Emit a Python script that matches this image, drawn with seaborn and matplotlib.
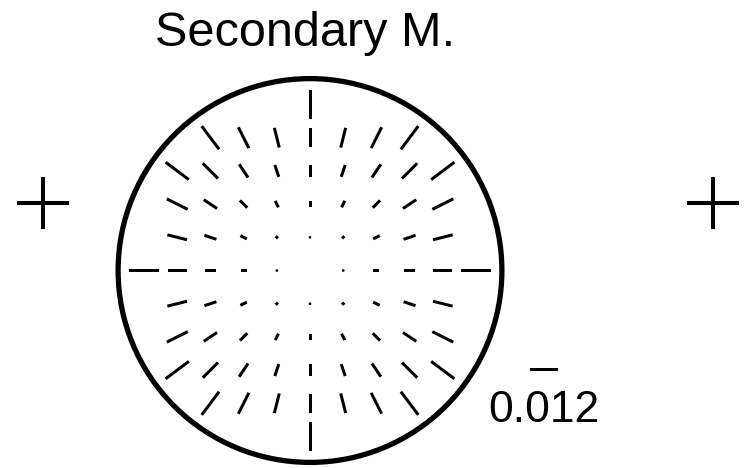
import numpy as np
import pandas as pd
import matplotlib
matplotlib.use("Agg")
import matplotlib.pyplot as plt
from matplotlib.patches import Circle
import seaborn as sns

sns.set_theme(style="white")
plt.rcParams["font.family"] = ["Liberation Sans", "DejaVu Sans"]

# Sampling grid (field positions, one unit per grid step)
grid_steps = [-5, -4, -3, -2, -1, 0, 1, 2, 3, 4, 5]
max_radius2 = 25

# Radial displacement magnitude for each ring of grid points (keyed by r^2)
ring_r2 = [1, 2, 4, 5, 8, 9, 10, 13, 16, 17, 18, 20, 25]
ring_mag = [0.0008, 0.0013, 0.0025, 0.0030, 0.0043, 0.0048, 0.0052,
            0.0066, 0.0080, 0.0084, 0.0089, 0.0097, 0.0120]

key_value = 0.012
key_label = "0.012"
title_text = "Secondary M."

# Reference marks beside the pupil
cross_x = [-8.05, 12.15]
cross_y = [2.03, 2.03]

pupil_radius = 5.78

# Build the vector field
mag_lookup = dict(zip(ring_r2, ring_mag))
rows = []
for gy in grid_steps:
    for gx in grid_steps:
        r2 = gx * gx + gy * gy
        if r2 == 0 or r2 > max_radius2:
            continue
        r = np.sqrt(r2)
        m = mag_lookup[r2]
        rows.append((gx, gy, m * gx / r, m * gy / r))
field = pd.DataFrame(rows, columns=["x", "y", "u", "v"])

px = 33.2  # pixels per grid unit
W, H = 744, 468
cx, cy = 310.0, 270.5

fig = plt.figure(figsize=(W / 100, H / 100), dpi=100)
ax = fig.add_axes([0, 0, 1, 1])
ax.set_xlim(-cx / px, (W - cx) / px)
ax.set_ylim(-(H - cy) / px, cy / px)
ax.set_axis_off()

scale = key_value / (29.0 / px)
q = ax.quiver(field["x"], field["y"], field["u"], field["v"],
              angles="xy", scale_units="xy", scale=scale, pivot="mid",
              units="xy", width=3.0 / px,
              headwidth=0, headlength=0, headaxislength=0,
              color="black")

ax.add_patch(Circle((0, 0), pupil_radius, fill=False, lw=3.8, color="black"))

sns.scatterplot(x=cross_x, y=cross_y, marker="+", s=37 ** 2, linewidth=2.9,
                color="black", ax=ax, legend=False)

ax.quiverkey(q, (544.0 - cx) / px, (cy - 369) / px, key_value, key_label,
             coordinates="data", labelpos="S", labelsep=0.21,
             labelcolor="black", fontproperties={"size": 32})

fig.text(305 / W, 1 - 46.5 / H, title_text, ha="center", va="baseline",
         fontsize=35, color="black")

fig.savefig("out.png", dpi=100, facecolor="white")
